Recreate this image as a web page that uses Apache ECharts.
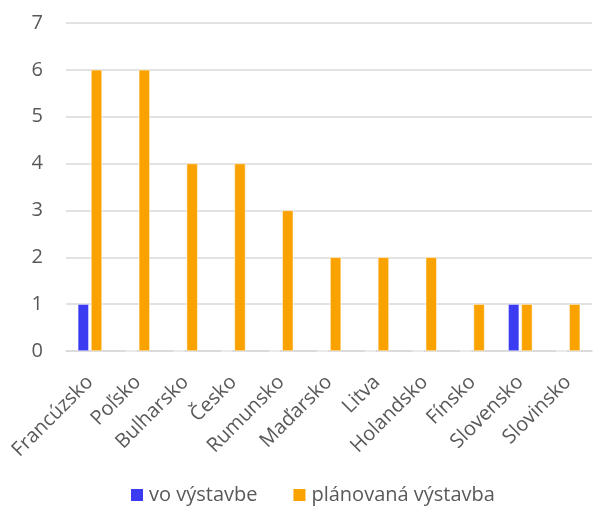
<!DOCTYPE html>
<html>
<head>
<meta charset="utf-8">
<script src="https://cdn.jsdelivr.net/npm/echarts@6/dist/echarts.min.js"></script>
<style>html,body{margin:0;padding:0;background:#fff}#c{width:594px;height:515px}</style>
</head>
<body>
<div id="c"></div>
<script>
const categories = ['Francúzsko','Poľsko','Bulharsko','Česko','Rumunsko','Maďarsko','Litva','Holandsko','Fínsko','Slovensko','Slovinsko'];
const seriesNames = ['vo výstavbe','plánovaná výstavba'];
const underConstruction = [1,0,0,0,0,0,0,0,0,1,0];
const planned = [6,6,4,4,3,2,2,2,1,1,1];
const yTicks = [0,1,2,3,4,5,6,7];

const FONT = 'Open Sans';
const TXT = '#595959';
const chart = echarts.init(document.getElementById('c'), null, {renderer:'canvas'});
chart.setOption({
  animation:false,
  textStyle:{fontFamily:FONT},
  grid:{left:66,right:2,top:23,bottom:164,containLabel:false},
  legend:{
    bottom:5,left:124,itemWidth:14,itemHeight:14,itemGap:34,
    icon:'rect',
    textStyle:{color:TXT,fontSize:20,fontFamily:FONT},
    data:seriesNames
  },
  xAxis:{
    type:'category',data:categories,
    axisLine:{show:true,lineStyle:{color:'#d9d9d9',width:1.5}},
    axisTick:{show:false},
    axisLabel:{rotate:45,color:TXT,fontSize:20,fontFamily:FONT,interval:0,margin:28}
  },
  yAxis:{
    type:'value',min:yTicks[0],max:yTicks[yTicks.length-1],interval:1,
    axisLine:{show:false},axisTick:{show:false},
    axisLabel:{color:TXT,fontSize:20,fontFamily:FONT,margin:23},
    splitLine:{lineStyle:{color:'#d9d9d9',width:1.5}}
  },
  series:[
    {name:seriesNames[0],type:'bar',data:underConstruction,barWidth:11,barGap:'20%',
     itemStyle:{color:'#3b3bf2',borderColor:'#fff',borderWidth:0.5}},
    {name:seriesNames[1],type:'bar',data:planned,barWidth:11,barGap:'20%',
     itemStyle:{color:'#f9a200',borderColor:'#fff',borderWidth:0.5}}
  ]
});
</script>
</body>
</html>
